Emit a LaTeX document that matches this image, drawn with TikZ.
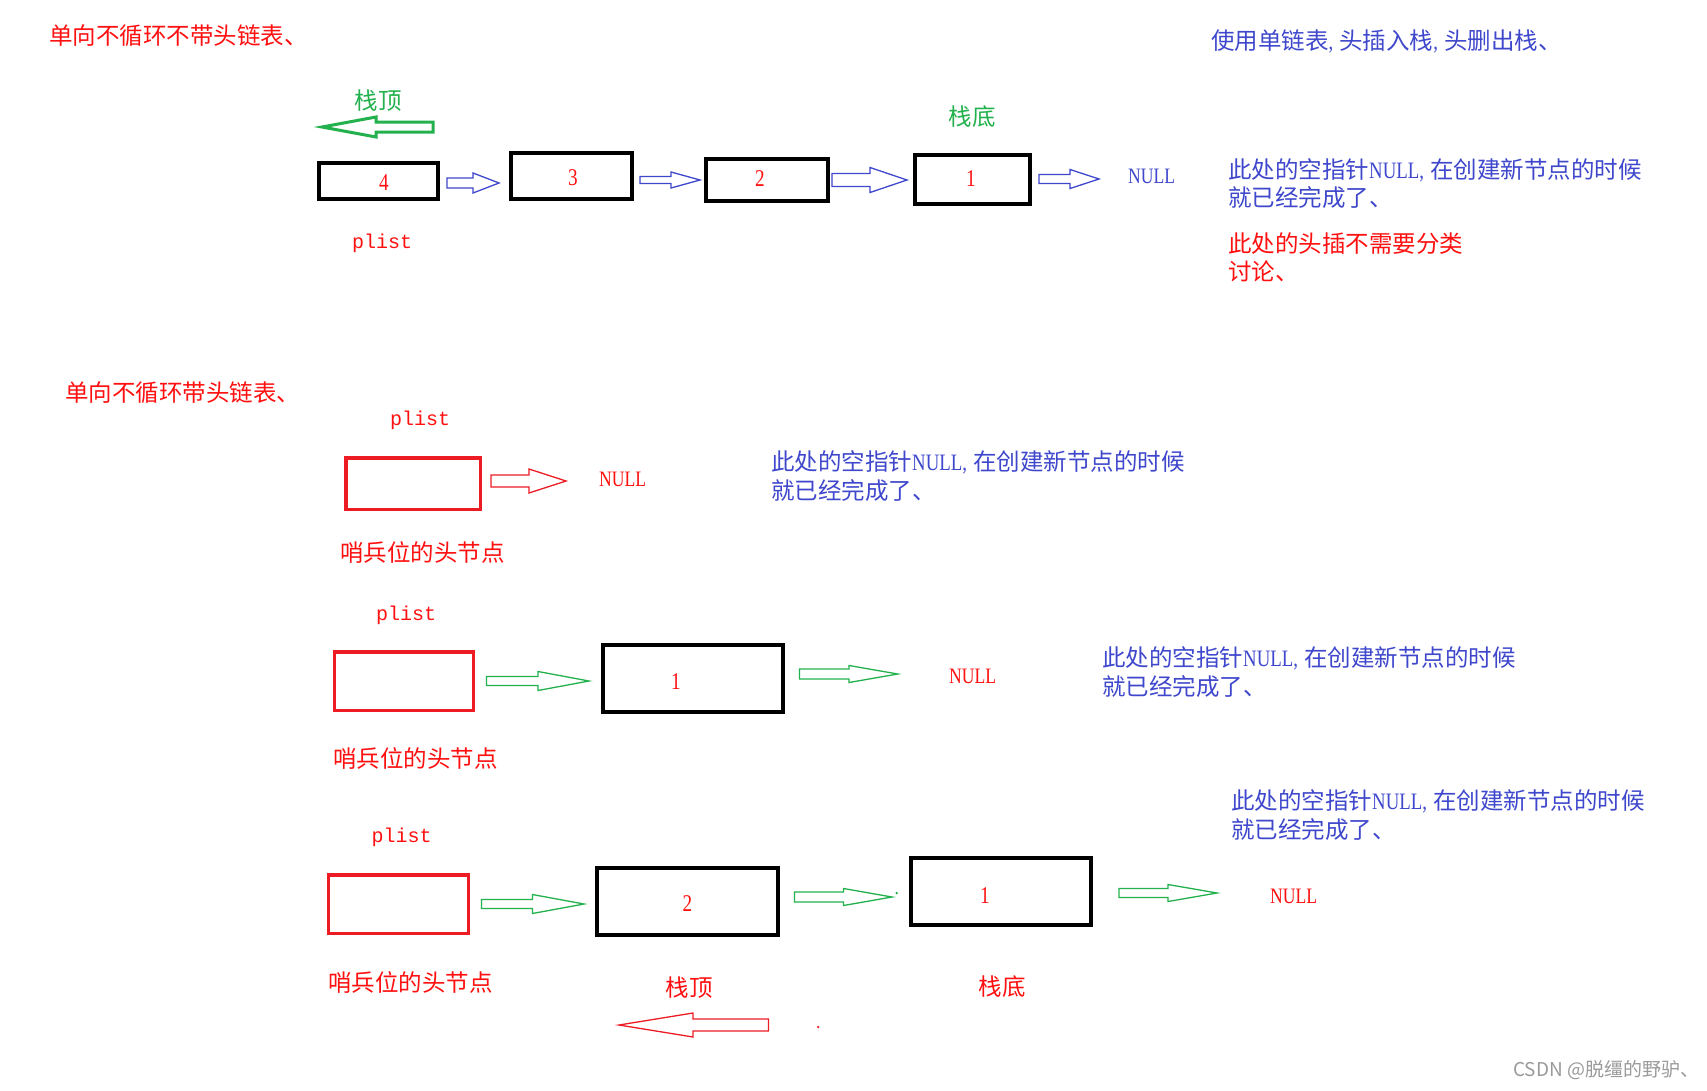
\documentclass[tikz,border=0pt]{standalone}
\usepackage{fontspec}
\newfontfamily\cjk{Noto Sans CJK SC}
\newfontfamily\lser{Liberation Serif}[FakeStretch=0.8]
\newfontfamily\lmono{Liberation Mono}
\definecolor{redT}{HTML}{FF1010}
\definecolor{boxred}{HTML}{ED1C24}
\definecolor{blueT}{HTML}{3F48CC}
\definecolor{greenA}{HTML}{22B14C}
\definecolor{wmgray}{HTML}{9A9A9A}
% #1 style, #2 x tail, #3 x head base, #4 x tip, #5 y centre, #6 shaft half height, #7 head half height
\newcommand\blkarrow[7]{%
  \draw[#1] (#2,#5-#6) -- (#3,#5-#6) -- (#3,#5-#7) -- (#4,#5) -- (#3,#5+#7) -- (#3,#5+#6) -- (#2,#5+#6) -- cycle;}
\newcommand\nulc{{\lser NULL,}\hspace{6pt}}
\begin{document}
\begin{tikzpicture}[x=1pt,y=-1pt,
  cn/.style={inner sep=0, anchor=west, font=\cjk\fontsize{23.5}{28}\selectfont},
  cnc/.style={inner sep=0, font=\cjk\fontsize{23.5}{28}\selectfont},
  num/.style={inner sep=0, text=redT, font=\lser\fontsize{24}{28}\selectfont},
  nullt/.style={inner sep=0, anchor=west, font=\lser\fontsize{22}{26}\selectfont},
  pl/.style={inner sep=0, text=redT, font=\lmono\fontsize{20}{24}\selectfont},
  boxk/.style={draw=black, line width=4pt, inner sep=0},
  boxr/.style={draw=boxred, line width=3.5pt, inner sep=0},
  arb/.style={draw=blueT, line width=1.3pt, line join=miter},
  arg/.style={draw=greenA, line width=1.3pt, line join=miter},
  argt/.style={draw=greenA, line width=3pt, line join=miter},
  arr/.style={draw=boxred, line width=1.3pt, line join=miter}
]
\useasboundingbox[fill=white] (0,0) rectangle (1707,1090);

% ---------- section 1 ----------
\node[cn, text=redT] (t1) at (49,36) {单向不循环不带头链表、};
\node[cn, text=blueT] (t2) at (1211,41) {使用单链表{\lser ,}\hspace{6pt}头插入栈{\lser ,}\hspace{6pt}头删出栈、};
\node[cnc, text=greenA] (top1) at (378,101) {栈顶};
\node[cnc, text=greenA] (bot1) at (972,117) {栈底};
\blkarrow{argt}{433}{376}{322}{127}{5}{10}

\node[boxk, minimum width=119pt, minimum height=36pt] (b4) at (378.5,181) {};
\node[boxk, minimum width=121pt, minimum height=46pt] (b3) at (571.5,176) {};
\node[boxk, minimum width=122pt, minimum height=42pt] (b2) at (767,180) {};
\node[boxk, minimum width=115pt, minimum height=49pt] (b1) at (972.5,179.5) {};
\node[num] (l4) at (384,183) {4};
\node[num] (l3) at (573,178) {3};
\node[num] (l2) at (760,179) {2};
\node[num] (l1) at (971,179) {1};
\blkarrow{arb}{447}{473}{499}{183}{5}{10}
\blkarrow{arb}{640}{671}{700}{180}{3.5}{8}
\blkarrow{arb}{832}{870}{907}{180}{6.5}{12.5}
\blkarrow{arb}{1039}{1070}{1099}{179}{4.5}{9.5}
\node[nullt, text=blueT] (null1) at (1128,176) {NULL};
\node[pl] (pl1) at (382,243) {plist};
\node[cn, text=blueT] (n1a) at (1228,170) {此处的空指针\nulc 在创建新节点的时候};
\node[cn, text=blueT] (n1b) at (1228,198) {就已经完成了、};
\node[cn, text=redT] (n1c) at (1228,244) {此处的头插不需要分类};
\node[cn, text=redT] (n1d) at (1228,271) {讨论、};

% ---------- section 2 ----------
\node[cn, text=redT] (t3) at (65,393) {单向不循环带头链表、};
\node[pl] (pl2) at (420,420) {plist};
\node[boxr, minimum width=134.5pt, minimum height=51.5pt] (h2) at (413,483.5) {};
\blkarrow{arr}{491}{529}{566}{481}{6}{12}
\node[nullt, text=redT] (null2) at (599,479) {NULL};
\node[cn, text=redT] (s2) at (340,553) {哨兵位的头节点};
\node[cn, text=blueT] (n2a) at (771,462) {此处的空指针\nulc 在创建新节点的时候};
\node[cn, text=blueT] (n2b) at (771,491) {就已经完成了、};

% ---------- section 3 ----------
\node[pl] (pl3) at (406,615) {plist};
\node[boxr, minimum width=139pt, minimum height=58.5pt] (h3) at (403.8,681) {};
\blkarrow{arg}{486.5}{538}{589}{681}{4.5}{9.5}
\node[boxk, minimum width=180.4pt, minimum height=67pt] (k3) at (692.7,678.5) {};
\node[num] (m3) at (676,682) {1};
\blkarrow{arg}{799.5}{849}{897.8}{674}{5}{8.5}
\node[nullt, text=redT] (null3) at (949,676) {NULL};
\node[cn, text=redT] (s3) at (333,758) {哨兵位的头节点};
\node[cn, text=blueT] (n3a) at (1102,658) {此处的空指针\nulc 在创建新节点的时候};
\node[cn, text=blueT] (n3b) at (1102,687) {就已经完成了、};

% ---------- section 4 ----------
\node[pl] (pl4) at (401.7,837) {plist};
\node[boxr, minimum width=139.6pt, minimum height=58.5pt] (h4) at (398.5,904) {};
\blkarrow{arg}{481.5}{532.4}{584}{904}{4.5}{9.5}
\node[boxk, minimum width=181.3pt, minimum height=67pt] (k4a) at (687.4,901.5) {};
\node[num] (m4a) at (687.4,904) {2};
\blkarrow{arg}{794.5}{843.5}{892}{897}{5}{8.5}
\fill[greenA] (896.7,893) circle (1.3);
\node[boxk, minimum width=180pt, minimum height=67pt] (k4b) at (1001,891.5) {};
\node[num] (m4b) at (985,896) {1};
\blkarrow{arg}{1119}{1168}{1217}{893}{4.5}{8.5}
\node[nullt, text=redT] (null4) at (1270,896) {NULL};
\node[cn, text=redT] (s4) at (328,982) {哨兵位的头节点};
\node[cnc, text=redT] (top4) at (689,988) {栈顶};
\node[cnc, text=redT] (bot4) at (1002,987) {栈底};
\blkarrow{arr}{768.5}{693}{619}{1025}{6}{12}
\fill[boxred] (818.2,1027) circle (1.3);
\node[cn, text=blueT] (n4a) at (1231,801) {此处的空指针\nulc 在创建新节点的时候};
\node[cn, text=blueT] (n4b) at (1231,830) {就已经完成了、};

% watermark
\node[inner sep=0, anchor=west, text=wmgray, font=\cjk\fontsize{19}{23}\selectfont] (wm) at (1513,1070) {CSDN @脱缰的野驴、};
\end{tikzpicture}
\end{document}
